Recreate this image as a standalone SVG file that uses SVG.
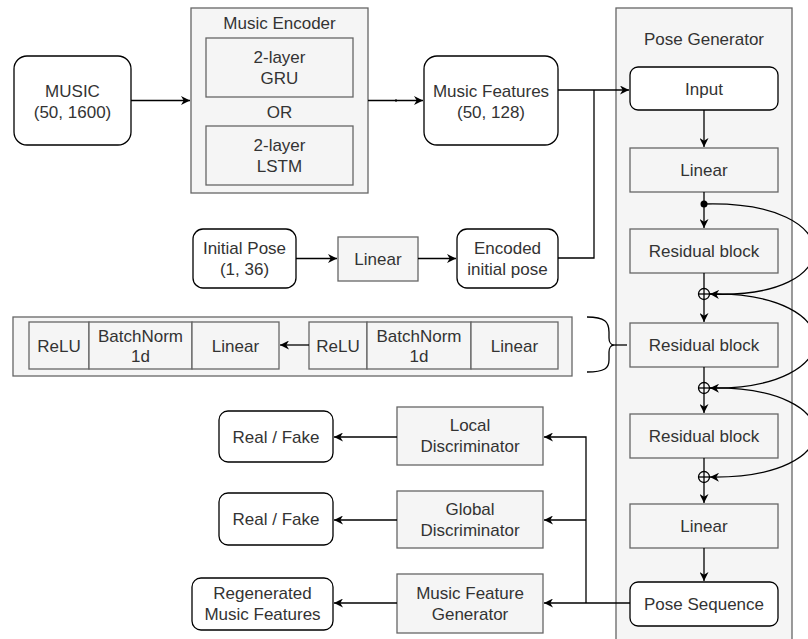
<svg xmlns="http://www.w3.org/2000/svg" width="808" height="639" viewBox="0 0 808 639">
<style>
text{font-family:"Liberation Sans",Arial,sans-serif;font-size:17px;fill:#333333;text-anchor:middle}
.g{fill:#f5f5f5;stroke:#666666;stroke-width:1.3}
.w{fill:#ffffff;stroke:#000000;stroke-width:1.3}
.c{fill:none;stroke:#000000;stroke-width:1.3}
</style>
<defs>
<marker id="ah" viewBox="0 0 10 10" refX="10" refY="5" markerWidth="10" markerHeight="9" orient="auto" markerUnits="userSpaceOnUse">
<path d="M0,0 L10,5 L0,10 L3,5 z" fill="#000"/>
</marker>
</defs>
<rect width="808" height="639" fill="#fff"/>

<g id="pose-generator">
<rect class="g" x="616" y="8" width="176" height="640"/>
<text x="704" y="45">Pose Generator</text>
</g>
<g id="music">
<rect class="w" x="14" y="56" width="117" height="89" rx="13"/>
<text x="72.5" y="97">MUSIC</text>
<text x="72.5" y="118">(50, 1600)</text>
</g>
<g id="music-encoder">
<rect class="g" x="191" y="8" width="177" height="185"/>
<text x="279.5" y="29">Music Encoder</text>
<rect class="g" x="206" y="38" width="147" height="59"/>
<text x="279.5" y="63">2-layer</text>
<text x="279.5" y="84">GRU</text>
<text x="279.5" y="118">OR</text>
<rect class="g" x="206" y="126" width="147" height="59"/>
<text x="279.5" y="151">2-layer</text>
<text x="279.5" y="172">LSTM</text>
</g>
<g id="music-features">
<rect class="w" x="424" y="56" width="134" height="89" rx="13"/>
<text x="491" y="97">Music Features</text>
<text x="491" y="118">(50, 128)</text>
</g>
<g id="initial-pose">
<rect class="w" x="193" y="229" width="103" height="59" rx="10"/>
<text x="244.5" y="254">Initial Pose</text>
<text x="244.5" y="275">(1, 36)</text>
</g>
<g id="linear-init">
<rect class="g" x="338" y="237" width="80" height="44"/>
<text x="378" y="265">Linear</text>
</g>
<g id="encoded-pose">
<rect class="w" x="457" y="229" width="101" height="59" rx="10"/>
<text x="507.5" y="254">Encoded</text>
<text x="507.5" y="275">initial pose</text>
</g>
<g id="input">
<rect class="w" x="630" y="67" width="148" height="43" rx="8"/>
<text x="704" y="95">Input</text>
</g>
<g id="linear1">
<rect class="g" x="630" y="148" width="148" height="44"/>
<text x="704" y="176">Linear</text>
</g>
<g id="residual1">
<rect class="g" x="630" y="229" width="148" height="44"/>
<text x="704" y="257">Residual block</text>
</g>
<g id="residual2">
<rect class="g" x="630" y="323" width="148" height="44"/>
<text x="704" y="351">Residual block</text>
</g>
<g id="residual3">
<rect class="g" x="630" y="414" width="148" height="44"/>
<text x="704" y="442">Residual block</text>
</g>
<g id="linear2">
<rect class="g" x="630" y="504" width="148" height="44"/>
<text x="704" y="532">Linear</text>
</g>
<g id="pose-sequence">
<rect class="w" x="630" y="582" width="148" height="44" rx="8"/>
<text x="704" y="610">Pose Sequence</text>
</g>
<g id="residual-detail">
<rect class="g" x="13" y="317" width="559" height="59"/>
<rect class="g" x="29" y="322" width="60" height="47"/>
<text x="59" y="352">ReLU</text>
<rect class="g" x="89" y="322" width="103" height="47"/>
<text x="140.5" y="342">BatchNorm</text>
<text x="140.5" y="362">1d</text>
<rect class="g" x="192" y="322" width="87" height="47"/>
<text x="235.5" y="352">Linear</text>
<rect class="g" x="309" y="322" width="58" height="47"/>
<text x="338" y="352">ReLU</text>
<rect class="g" x="367" y="322" width="104" height="47"/>
<text x="419" y="342">BatchNorm</text>
<text x="419" y="362">1d</text>
<rect class="g" x="471" y="322" width="87" height="47"/>
<text x="514.5" y="352">Linear</text>
</g>
<g id="local-disc">
<rect class="g" x="397" y="407" width="146" height="58"/>
<text x="470" y="431">Local</text>
<text x="470" y="452">Discriminator</text>
</g>
<g id="global-disc">
<rect class="g" x="397" y="491" width="146" height="57"/>
<text x="470" y="515">Global</text>
<text x="470" y="536">Discriminator</text>
</g>
<g id="mfg">
<rect class="g" x="397" y="574" width="146" height="59"/>
<text x="470" y="599">Music Feature</text>
<text x="470" y="620">Generator</text>
</g>
<g id="real-fake-1">
<rect class="w" x="219" y="411" width="114" height="51" rx="9"/>
<text x="276" y="443">Real / Fake</text>
</g>
<g id="real-fake-2">
<rect class="w" x="219" y="493" width="114" height="52" rx="9"/>
<text x="276" y="525">Real / Fake</text>
</g>
<g id="regenerated">
<rect class="w" x="192" y="578" width="141" height="52" rx="9"/>
<text x="262.5" y="599">Regenerated</text>
<text x="262.5" y="620">Music Features</text>
</g>

<g id="connectors">
<path class="c" d="M131 100.5 H190" marker-end="url(#ah)"/>
<path class="c" d="M368 100.5 H423" marker-end="url(#ah)"/>
<rect x="395" y="99.5" width="2" height="2" fill="#000"/>
<path class="c" d="M558 90 H629" marker-end="url(#ah)"/>
<path class="c" d="M558 258 H594 V90"/>
<path class="c" d="M296 258.5 H337" marker-end="url(#ah)"/>
<path class="c" d="M418 258.5 H456" marker-end="url(#ah)"/>
<path class="c" d="M704 110 V147" marker-end="url(#ah)"/>
<path class="c" d="M704 192 V228" marker-end="url(#ah)"/>
<circle cx="704" cy="204" r="3.5" fill="#000"/>
<path class="c" d="M704 273 V322" marker-end="url(#ah)"/>
<path class="c" d="M704 367 V413" marker-end="url(#ah)"/>
<path class="c" d="M704 458 V503" marker-end="url(#ah)"/>
<path class="c" d="M704 548 V581" marker-end="url(#ah)"/>
<circle class="c" cx="704" cy="294" r="5.5"/>
<path class="c" d="M698.5 294 H709.5"/>
<circle class="c" cx="704" cy="388" r="5.5"/>
<path class="c" d="M698.5 388 H709.5"/>
<circle class="c" cx="704" cy="477" r="5.5"/>
<path class="c" d="M698.5 477 H709.5"/>
<path class="c" d="M704 204 C850 200, 850 300, 710 294" marker-end="url(#ah)"/>
<path class="c" d="M710 294 C850 292, 850 390, 710 388" marker-end="url(#ah)"/>
<path class="c" d="M710 388 C850 386, 850 479, 710 477" marker-end="url(#ah)"/>
<path class="c" d="M309 345 H280" marker-end="url(#ah)"/>
<path class="c" d="M587 317 C605 317, 609 322, 609 332 L609 338 C609 342, 611 345, 614 345 C611 345, 609 348, 609 352 L609 360 C609 368, 605 372, 587 372"/>
<path class="c" d="M614 345 H627"/>
<path class="c" d="M630 603 H544" marker-end="url(#ah)"/>
<path class="c" d="M586 603 V437 H544" marker-end="url(#ah)"/>
<path class="c" d="M586 520 H544" marker-end="url(#ah)"/>
<path class="c" d="M397 437 H334" marker-end="url(#ah)"/>
<path class="c" d="M397 520 H334" marker-end="url(#ah)"/>
<path class="c" d="M397 603 H334" marker-end="url(#ah)"/>
</g>
</svg>
